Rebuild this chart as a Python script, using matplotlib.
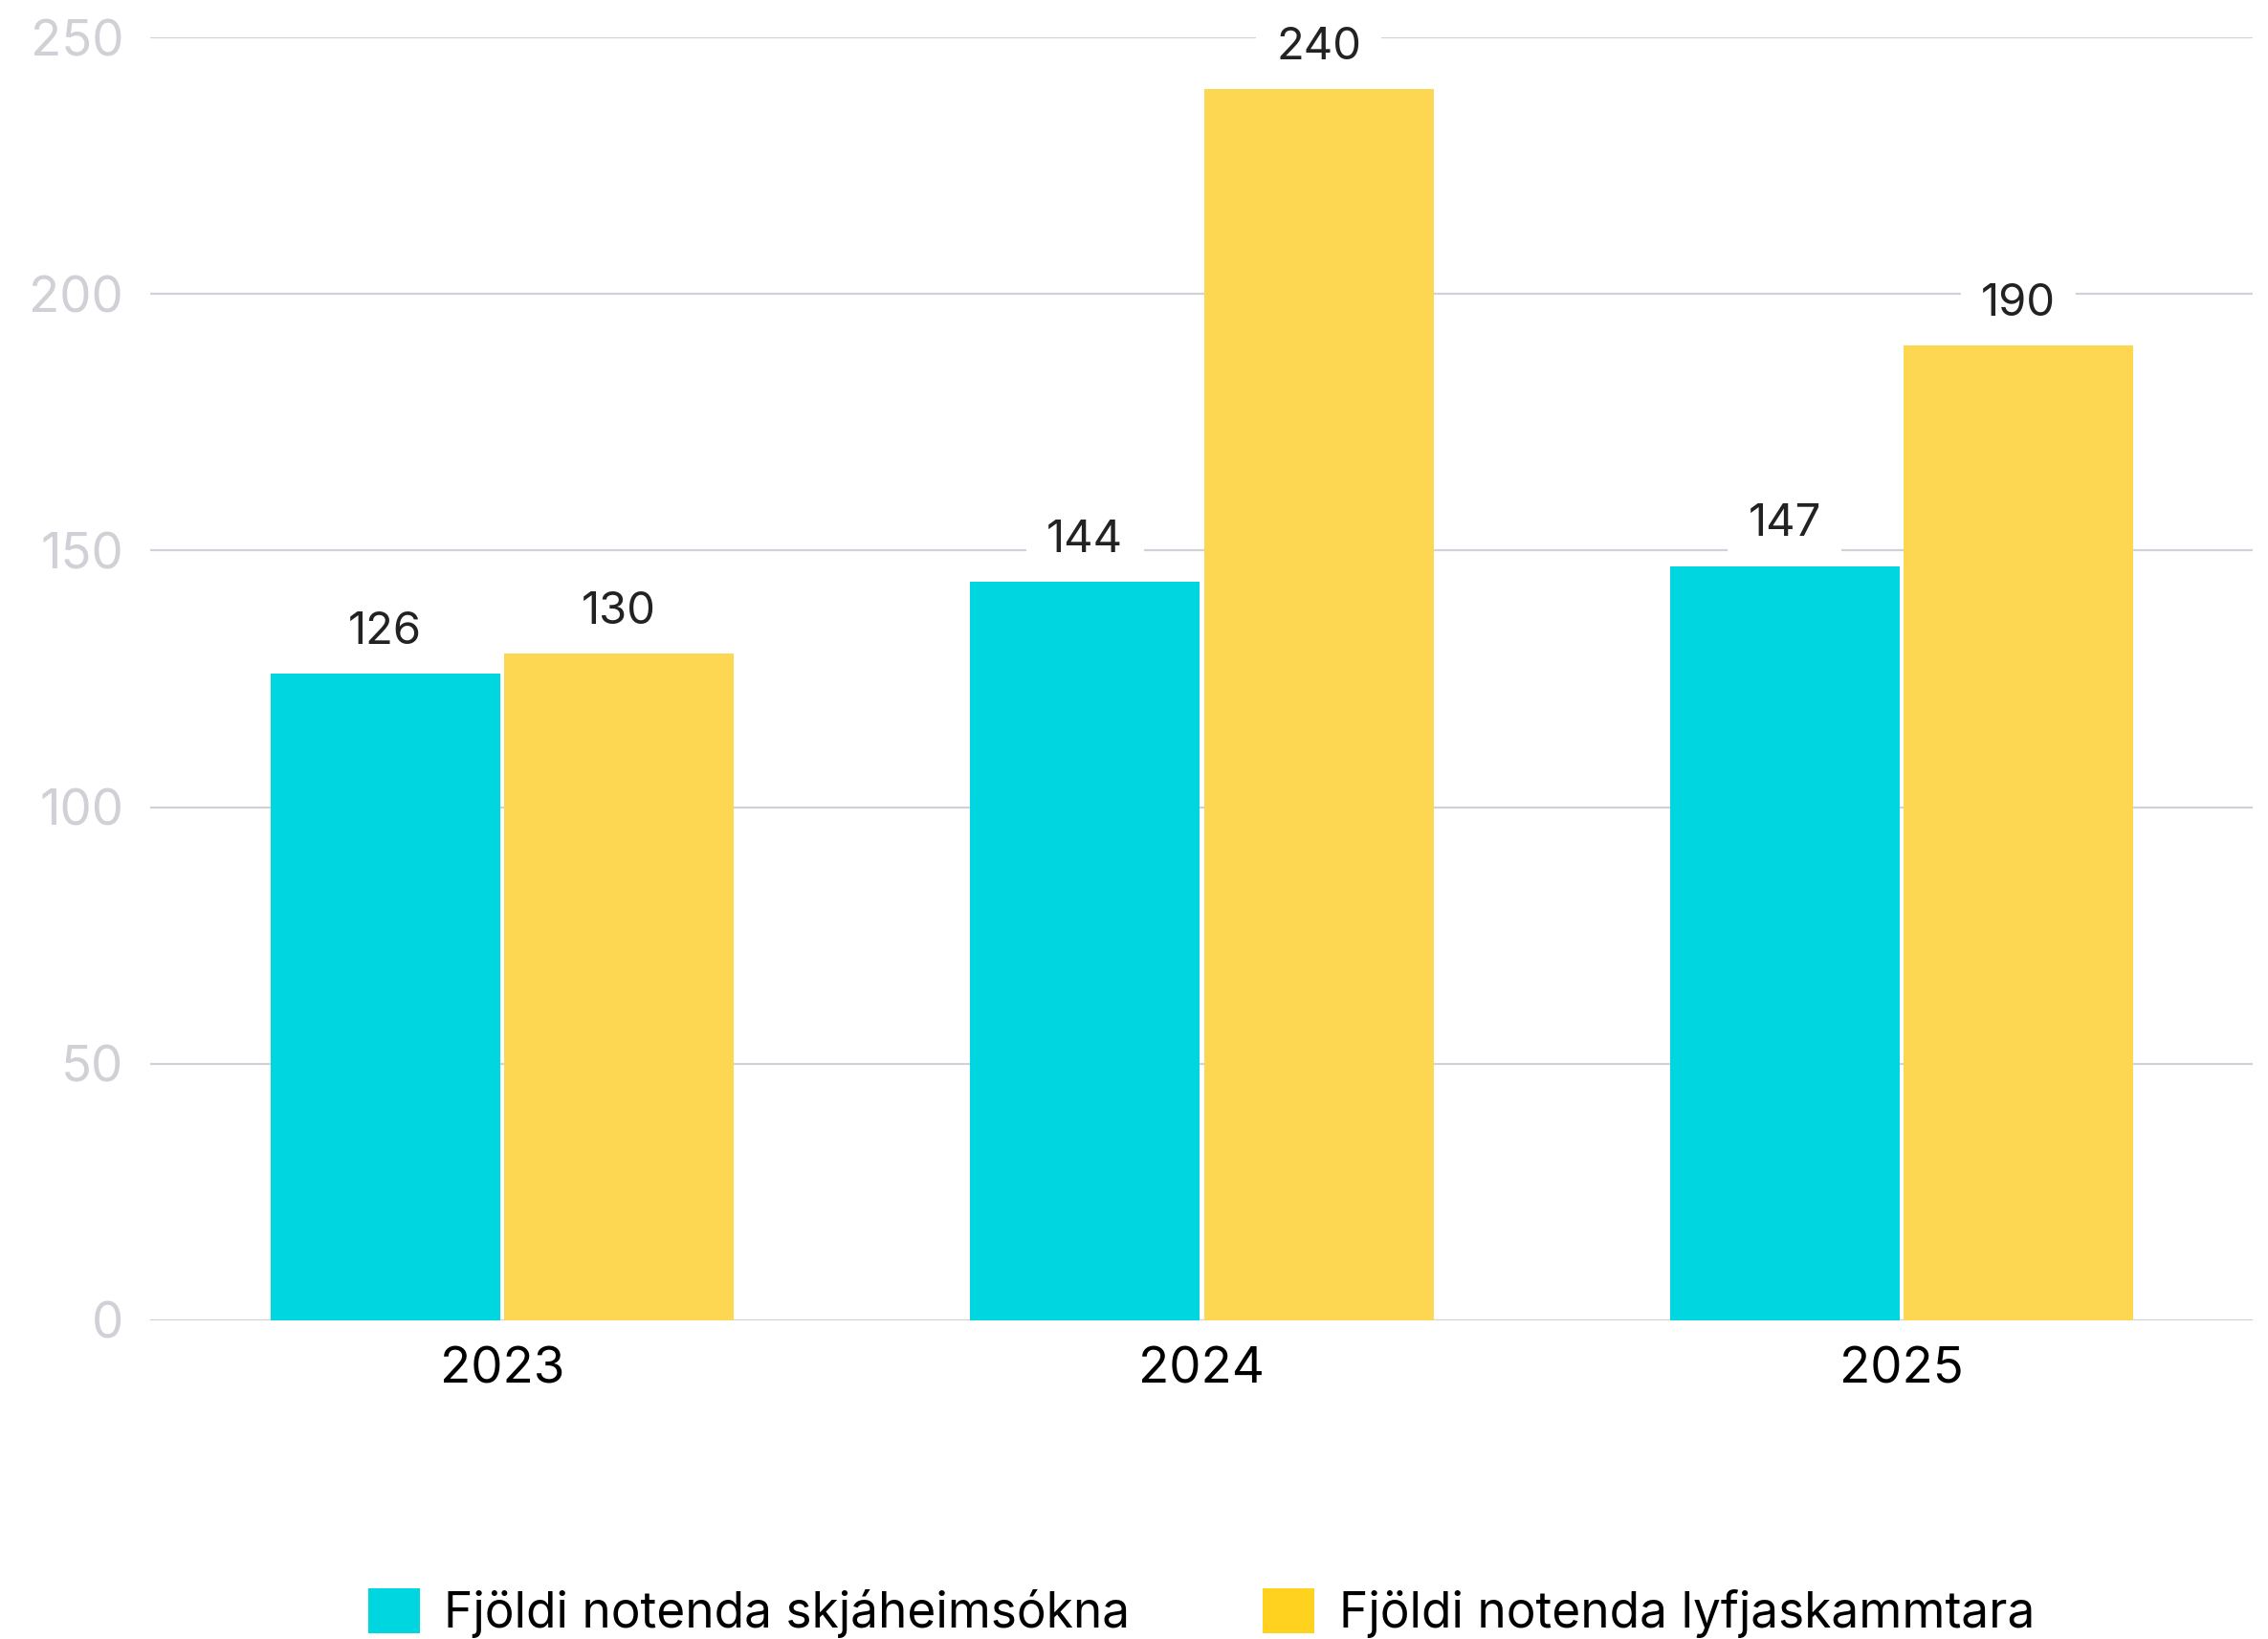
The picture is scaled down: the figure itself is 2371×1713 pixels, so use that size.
import matplotlib.pyplot as plt
from matplotlib.patches import Patch
import numpy as np

plt.rcParams['font.family'] = ['Inter', 'DejaVu Sans']

years = ['2023', '2024', '2025']
skjaheimsoknir = [126, 144, 147]
lyfjaskammtarar = [130, 240, 190]
series_names = ['Fjöldi notenda skjáheimsókna', 'Fjöldi notenda lyfjaskammtara']
yticks = [0, 50, 100, 150, 200, 250]

cyan = '#00D6E0'
yellow = '#FDD751'
yellow_legend = '#FFD21F'

fig = plt.figure(figsize=(23.71, 17.13), dpi=100)
ax = fig.add_axes([0.0662, 0.1944, 0.9271, 0.7828])

x = np.arange(len(years))
w = 0.328
off = 0.167
b1 = ax.bar(x - off, skjaheimsoknir, w, color=cyan, zorder=2)
b2 = ax.bar(x + off, lyfjaskammtarar, w, color=yellow, zorder=2)

# value labels with white box hiding the grid
for bars in (b1, b2):
    for r in bars:
        ax.annotate(str(int(r.get_height())),
                    (r.get_x() + r.get_width() / 2, r.get_height()),
                    xytext=(0, 31), textcoords='offset points',
                    ha='center', va='center', fontsize=34, color='#222222',
                    bbox=dict(boxstyle='square,pad=0.45', fc='white', ec='none'),
                    zorder=3)

ax.set_xlim(-0.503, 2.502)
ax.set_ylim(0, 250)
ax.set_yticks(yticks)
ax.set_xticks(x)
ax.set_xticklabels(years)
ax.grid(axis='y', color='#CFD2D8', linewidth=1.6, zorder=0)
ax.axhline(0, color='#C8CDD0', linewidth=2.2, zorder=1)
for s in ax.spines.values():
    s.set_visible(False)
ax.tick_params(axis='y', length=0, pad=20, labelsize=38, labelcolor='#D0D0D6')
ax.tick_params(axis='x', length=0, pad=20, labelsize=38, labelcolor='black')

handles = [Patch(facecolor=cyan, edgecolor='none'),
           Patch(facecolor=yellow_legend, edgecolor='none')]
ax.legend(handles, series_names, loc='center', bbox_to_anchor=(0.5, -0.228),
          ncol=2, frameon=False, fontsize=37, handlelength=1.05, handleheight=1.05,
          handletextpad=0.5, columnspacing=2.7)

plt.savefig('out.png', dpi=100)
